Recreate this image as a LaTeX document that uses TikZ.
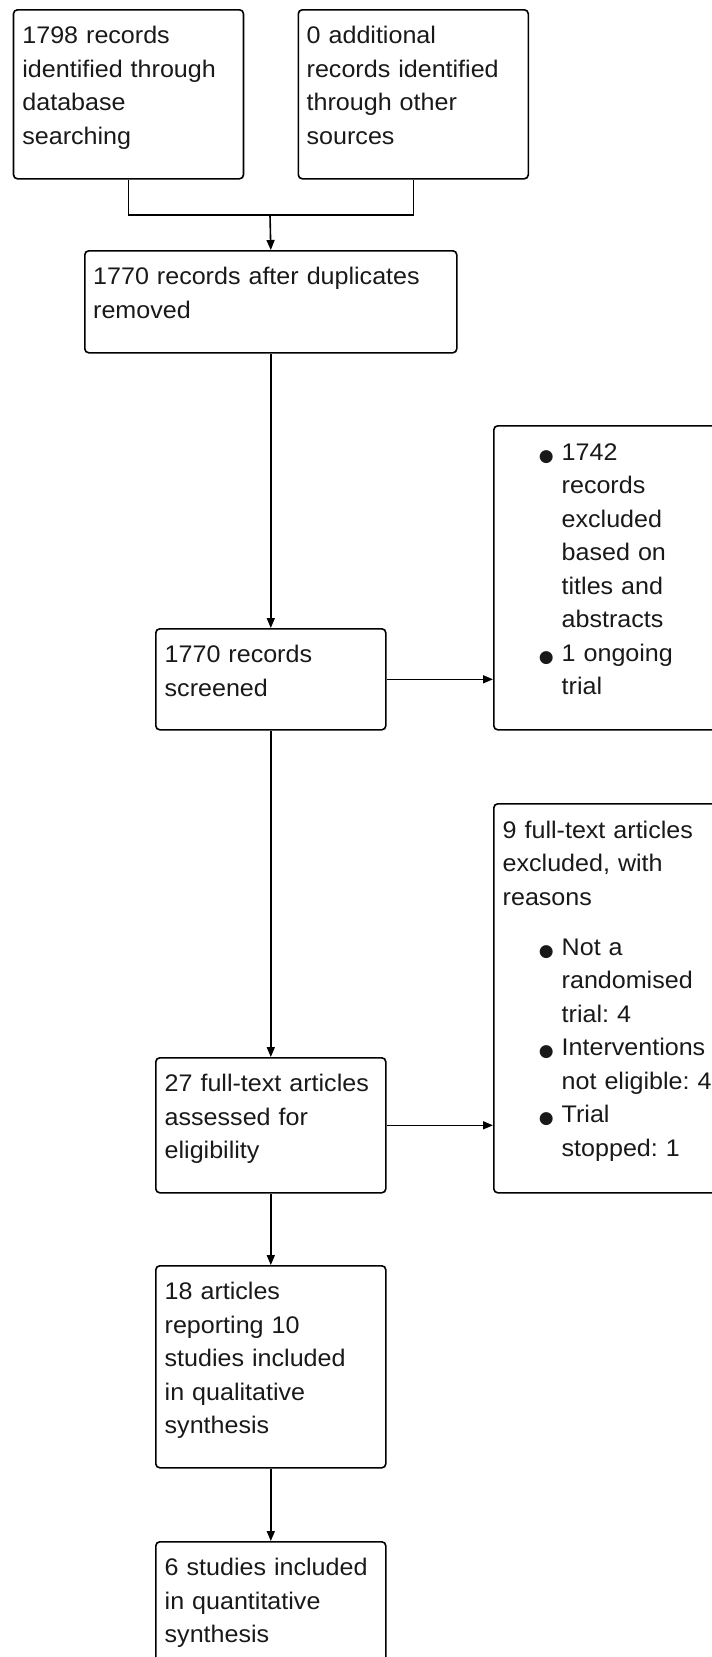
\documentclass[tikz,border=0pt]{standalone}
\usepackage{fontspec}
\setmainfont{Liberation Sans}[FakeStretch=1.045]
\newfontfamily\dejavu{DejaVu Sans}
\usepackage{graphicx}
\usetikzlibrary{arrows.meta,calc}
\newcommand\bul{\makebox[0pt][r]{\raisebox{-1pt}{\dejavu\fontsize{17}{33.5}\selectfont ●}\hspace{8pt}}}
\begin{document}
\begin{tikzpicture}[x=1pt,y=-1pt,
  box/.style={draw=black, line width=1.6pt, rounded corners=4pt, inner sep=0pt, anchor=north west, minimum width=230pt},
  txt/.style={inner sep=0pt, anchor=base west, align=left, text width=390pt, font=\frenchspacing\fontsize{24}{33.5}\selectfont, text=black!90},
  arr/.style={line width=1.6pt, -{Triangle[length=10pt,width=8pt]}},
  ln/.style={line width=1.6pt}]
\useasboundingbox (0,0) rectangle (712,1657);
\clip (0,0) rectangle (712,1657);
% boxes
\node[box, minimum height=169pt] (b1) at (12.7,9) {};
\node[box, minimum height=169pt] (b2) at (297.5,9) {};
\node[box, minimum width=372pt, minimum height=102pt] (b3) at (84,250) {};
\node[box, minimum height=101pt] (b4) at (155,628) {};
\node[box, minimum height=304pt] (b5) at (493,425) {};
\node[box, minimum height=389pt] (b6) at (493,803) {};
\node[box, minimum height=135pt] (b7) at (155,1057) {};
\node[box, minimum height=202pt] (b8) at (155,1265) {};
\node[box, minimum height=135pt] (b9) at (155,1541) {};
% texts
\node[txt] (t1) at ($(b1.north west)+(9.5,34.5)$) {1798 records\\identified through\\database\\searching};
\node[txt] (t2) at ($(b2.north west)+(9,34.5)$) {0 additional\\records identified\\through other\\sources};
\node[txt] (t3) at ($(b3.north west)+(9,34.5)$) {1770 records after duplicates\\removed};
\node[txt] (t4) at ($(b4.north west)+(9.5,34.5)$) {1770 records\\screened};
\node[txt] (t5) at ($(b5.north west)+(68.5,35)$) {\bul 1742\\records\\excluded\\based on\\titles and\\abstracts\\\bul 1 ongoing\\trial};
\node[txt] (t6) at ($(b6.north west)+(9.5,35)$) {9 full-text articles\\excluded, with\\reasons\\[16.75pt]\hspace*{59pt}\bul Not a\\\hspace*{59pt}randomised\\\hspace*{59pt}trial: 4\\\hspace*{59pt}\bul Interventions\\\hspace*{59pt}not eligible: 4\\\hspace*{59pt}\bul Trial\\\hspace*{59pt}stopped: 1};
\node[txt] (t7) at ($(b7.north west)+(9.5,34.5)$) {27 full-text articles\\assessed for\\eligibility};
\node[txt] (t8) at ($(b8.north west)+(9.5,34.5)$) {18 articles\\reporting 10\\studies included\\in qualitative\\synthesis};
\node[txt] (t9) at ($(b9.north west)+(9.5,34.5)$) {6 studies included\\in quantitative\\synthesis};
% connectors
\coordinate (j) at (270,215);
\draw[ln] (b1.south) |- (j) -| (b2.south);
\draw[arr] (j) -- (b3.north);
\draw[arr] (b3.south) -- (b4.north);
\draw[arr] (b4.east) -- (b4.east -| b5.west);
\draw[arr] (b4.south) -- (b7.north);
\draw[arr] (b7.east) -- (b7.east -| b6.west);
\draw[arr] (b7.south) -- (b8.north);
\draw[arr] (b8.south) -- (b9.north);
\end{tikzpicture}
\end{document}
